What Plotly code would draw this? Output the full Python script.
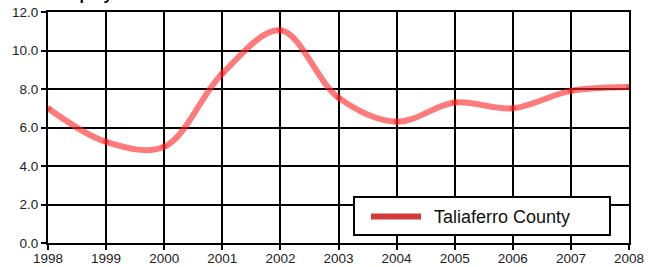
import plotly.graph_objects as go

years = [1998, 1999, 2000, 2001, 2002, 2003, 2004, 2005, 2006, 2007, 2008]
rate = [7.0, 5.25, 5.0, 8.8, 11.05, 7.55, 6.3, 7.3, 7.0, 7.9, 8.1]
series_name = "Taliaferro County"
title_text = "Unemployment Rate"
y_ticks = [0, 2, 4, 6, 8, 10, 12]

W, H = 650, 267
L, R, T, B = 48, 21, 11.5, 24
plot_h = H - T - B
plot_w = W - L - R


def px_x(x):
    return (x - L) / plot_w


def px_y(y):
    return (H - B - y) / plot_h


FONT = "Liberation Sans, Arial, sans-serif"

fig = go.Figure()
fig.add_trace(go.Scatter(
    x=years, y=rate, mode="lines+markers", name=series_name, showlegend=False,
    line=dict(color="rgba(255,40,40,0.62)", width=6, shape="spline", smoothing=1.0),
    marker=dict(size=6, color="rgba(255,0,0,0.35)", line=dict(width=0)),
    hoverinfo="x+y",
))

axis_common = dict(
    showgrid=True, gridcolor="black", gridwidth=2,
    showline=True, linecolor="black", linewidth=2, mirror=True,
    ticks="outside", ticklen=5, tickwidth=2, tickcolor="black",
    zeroline=False, automargin=False,
    tickfont=dict(family=FONT, size=13.5, color="#222"),
)
fig.update_xaxes(range=[1998, 2008], tickmode="array", tickvals=years,
                 ticktext=[str(y) for y in years], ticklabelstandoff=-3, **axis_common)
fig.update_yaxes(range=[0, 12], tickmode="array", tickvals=y_ticks,
                 ticktext=[f"{v:.1f}" for v in y_ticks], **axis_common)

# title (clipped at the top edge, as in the reference)
fig.add_annotation(
    text=f"<b>{title_text}</b>", xref="paper", yref="paper",
    x=px_x(33), y=px_y(4.5), xanchor="left", yanchor="bottom",
    showarrow=False, font=dict(family=FONT, size=16, color="black"),
)

# legend box
fig.add_shape(type="rect", xref="paper", yref="paper",
              x0=px_x(354), x1=px_x(610), y0=px_y(235), y1=px_y(197),
              fillcolor="white", line=dict(color="black", width=2), layer="above")
fig.add_shape(type="line", xref="paper", yref="paper",
              x0=px_x(371), x1=px_x(421), y0=px_y(216.5), y1=px_y(216.5),
              line=dict(color="#d13a3a", width=6), layer="above")
fig.add_annotation(
    text=series_name, xref="paper", yref="paper",
    x=px_x(432), y=px_y(216.5), xanchor="left", yanchor="middle",
    showarrow=False, font=dict(family=FONT, size=18, color="#111"),
)

fig.update_layout(
    template="none",
    width=W, height=H,
    margin=dict(l=L, r=R, t=T, b=B, autoexpand=False),
    paper_bgcolor="white", plot_bgcolor="white",
    showlegend=False,
)

fig.write_html(
    "out.html",
    config={"displayModeBar": False, "responsive": False},
    post_script="document.body.style.margin='0';document.body.style.overflow='hidden';",
)
